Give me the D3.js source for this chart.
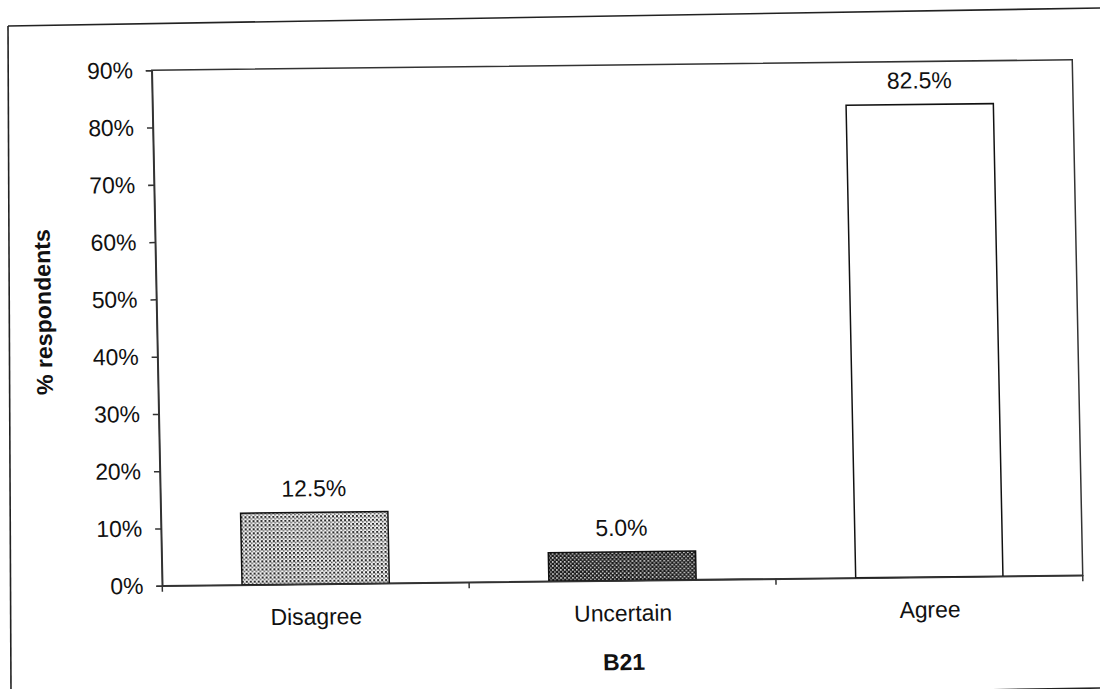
<!DOCTYPE html>
<html>
<head>
<meta charset="utf-8">
<script src="https://cdn.jsdelivr.net/npm/d3@7"></script>
<style>
  html, body { margin: 0; padding: 0; background: #fff; overflow: hidden; }
  svg { display: block; }
  text { font-family: "Liberation Sans", Arial, sans-serif; fill: #111; }
</style>
</head>
<body>
<script>
const categories = ["Disagree", "Uncertain", "Agree"];
const values = [12.5, 5.0, 82.5];
const valueLabels = ["12.5%", "5.0%", "82.5%"];
const yTickValues = [0, 10, 20, 30, 40, 50, 60, 70, 80, 90];
const barFills = ["url(#dotsLight)", "url(#dotsDark)", "#ffffff"];
const xTitle = "B21";
const yTitle = "% respondents";

const W = 1100, H = 689;
const plot = { left: 152, top: 72, right: 1077, bottom: 584 };

const svg = d3.select("body").append("svg").attr("width", W).attr("height", H);

const defs = svg.append("defs");
const pl = defs.append("pattern").attr("id", "dotsLight").attr("patternUnits", "userSpaceOnUse")
  .attr("width", 4).attr("height", 4);
pl.append("rect").attr("width", 4).attr("height", 4).attr("fill", "#f4f4f4");
pl.append("rect").attr("x", 0).attr("y", 0).attr("width", 2).attr("height", 2).attr("fill", "#2a2a2a");
pl.append("rect").attr("x", 2).attr("y", 2).attr("width", 1.6).attr("height", 1.6).attr("fill", "#555");

const pd = defs.append("pattern").attr("id", "dotsDark").attr("patternUnits", "userSpaceOnUse")
  .attr("width", 4).attr("height", 4);
pd.append("rect").attr("width", 4).attr("height", 4).attr("fill", "#1a1a1a");
pd.append("rect").attr("x", 0).attr("y", 0).attr("width", 1.6).attr("height", 1.6).attr("fill", "#d8d8d8");
pd.append("rect").attr("x", 2).attr("y", 2).attr("width", 1.6).attr("height", 1.6).attr("fill", "#bbbbbb");

// outer frame (scanned page, slightly skewed): top, left and bottom edges only
const frame = svg.append("g").attr("transform", "matrix(1,-0.0165,0.0045,1,8,26)")
  .attr("stroke", "#222").attr("stroke-width", 1.6).attr("fill", "none");
frame.append("line").attr("x1", 0).attr("y1", 0).attr("x2", 1150).attr("y2", 0);
frame.append("line").attr("x1", 0).attr("y1", 0).attr("x2", 0).attr("y2", 720);
frame.append("line").attr("x1", 0).attr("y1", 680).attr("x2", 1150).attr("y2", 680);

// chart group with slight skew to mimic the scan
const g = svg.append("g").attr("transform", "matrix(0.9951,-0.01135,0.0205,1.0068,-0.96,-0.51)");

const x = d3.scaleBand().domain(categories).range([plot.left, plot.right])
  .paddingInner(0.52).paddingOuter(0.26);
const y = d3.scaleLinear().domain([0, 90]).range([plot.bottom, plot.top]);

// plot border
g.append("rect")
  .attr("x", plot.left).attr("y", plot.top)
  .attr("width", plot.right - plot.left).attr("height", plot.bottom - plot.top)
  .attr("fill", "none").attr("stroke", "#333").attr("stroke-width", 1.5);

// bars
g.selectAll("rect.bar").data(values).join("rect")
  .attr("class", "bar")
  .attr("x", (d, i) => x(categories[i]))
  .attr("y", d => y(d))
  .attr("width", x.bandwidth())
  .attr("height", d => y(0) - y(d))
  .attr("fill", (d, i) => barFills[i])
  .attr("stroke", "#111").attr("stroke-width", 1.5);

// value labels
g.selectAll("text.val").data(values).join("text")
  .attr("class", "val")
  .attr("x", (d, i) => x(categories[i]) + x.bandwidth() / 2)
  .attr("y", d => y(d) - 16)
  .attr("text-anchor", "middle")
  .attr("font-size", 23)
  .text((d, i) => valueLabels[i]);

// y axis
const yAxis = d3.axisLeft(y).tickValues(yTickValues).tickFormat(d => d + "%")
  .tickSize(6).tickPadding(13);
const ya = g.append("g").attr("transform", `translate(${plot.left},0)`).call(yAxis);
ya.select(".domain").attr("stroke", "#333").attr("stroke-width", 1.5);
ya.selectAll(".tick line").attr("stroke", "#333").attr("stroke-width", 1.5);
ya.selectAll(".tick text").attr("font-size", 23).attr("font-family", "Liberation Sans, Arial, sans-serif")
  .attr("fill", "#111");

// x axis
const xAxis = d3.axisBottom(x).tickSize(0).tickPadding(24);
const xa = g.append("g").attr("transform", `translate(0,${plot.bottom})`).call(xAxis);
xa.select(".domain").attr("stroke", "#333").attr("stroke-width", 1.5);
xa.selectAll(".tick text").attr("font-size", 23).attr("font-family", "Liberation Sans, Arial, sans-serif")
  .attr("fill", "#111");
// category boundary ticks
const step = x.step();
const boundaries = d3.range(categories.length + 1).map(i => plot.left + i * step);
g.selectAll("line.xtick").data(boundaries).join("line")
  .attr("class", "xtick")
  .attr("x1", d => d).attr("x2", d => d)
  .attr("y1", plot.bottom).attr("y2", plot.bottom + 6)
  .attr("stroke", "#333").attr("stroke-width", 1.5);

// titles
g.append("text")
  .attr("x", (plot.left + plot.right) / 2).attr("y", 673)
  .attr("text-anchor", "middle").attr("font-size", 23).attr("font-weight", "bold")
  .text(xTitle);
g.append("text")
  .attr("transform", `translate(46,311) rotate(-90)`)
  .attr("text-anchor", "middle").attr("font-size", 23).attr("font-weight", "bold")
  .text(yTitle);
</script>
</body>
</html>
